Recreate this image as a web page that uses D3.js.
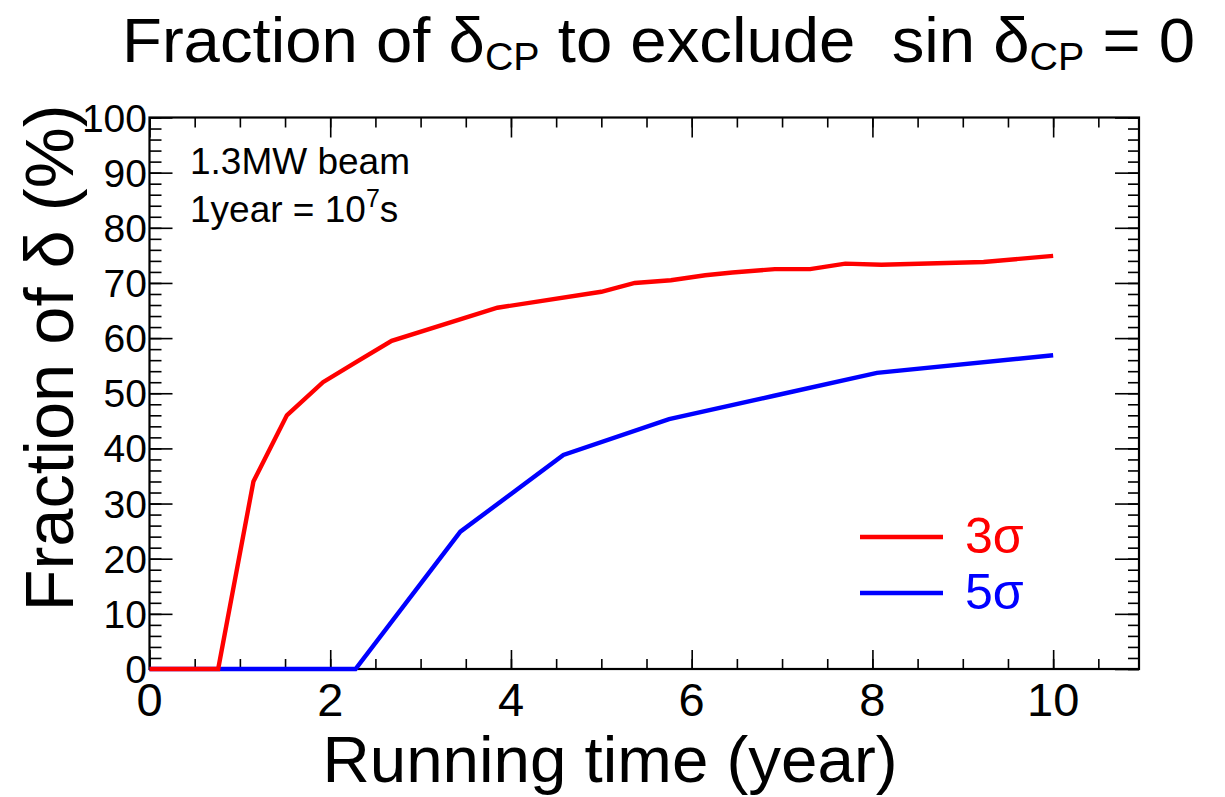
<!DOCTYPE html>
<html>
<head>
<meta charset="utf-8">
<script src="https://cdn.jsdelivr.net/npm/d3@7"></script>
<style>
body{margin:0;background:#fff;}
text{font-family:"Liberation Sans",Arial,Helvetica,sans-serif;}
</style>
</head>
<body>
<script>
// data
var years3 = [0, 0.76, 1.15, 1.52, 1.92, 2.3, 2.68, 3.85, 5.0, 5.37, 5.77, 6.15, 6.45, 6.92, 7.31, 7.7, 8.1, 9.23, 10];
var frac3  = [0, 0, 34, 46, 52, 55.8, 59.5, 65.5, 68.4, 70, 70.5, 71.4, 71.9, 72.5, 72.5, 73.5, 73.3, 73.8, 74.9];
var years5 = [0, 2.28, 3.44, 4.58, 5.75, 6.9, 8.05, 10];
var frac5  = [0, 0, 24.9, 38.8, 45.3, 49.5, 53.7, 56.9];
var xTicks = [0, 2, 4, 6, 8, 10];
var yTicks = [0, 10, 20, 30, 40, 50, 60, 70, 80, 90, 100];
var legendLabels = ["3σ", "5σ"];
var colors = ["#ff0000", "#0000ff"];

var W = 1225, H = 797;
var mLeft = 149.5, mRight = 1139, mTop = 117.5, mBottom = 669;

var svg = d3.select("body").append("svg").attr("width", W).attr("height", H);

var x = d3.scaleLinear().domain([0, 10.95]).range([mLeft, mRight]);
var y = d3.scaleLinear().domain([0, 100]).range([mBottom, mTop]);

var minorX = d3.range(0, 10.95, 0.5);
var minorY = d3.range(0, 100.1, 2);

// ticks: ROOT style, inward on all four sides
function tickAxis(axis, tr, vals, len){
  var g = svg.append("g").attr("transform", tr)
    .call(axis.tickValues(vals).tickSize(len).tickSizeOuter(0).tickFormat(""));
  g.select(".domain").remove();
  g.selectAll("text").remove();
  g.selectAll("line").attr("stroke", "#000").attr("stroke-width", 1.6);
  return g;
}
tickAxis(d3.axisTop(x), "translate(0," + mBottom + ")", minorX, 10);
tickAxis(d3.axisTop(x), "translate(0," + mBottom + ")", xTicks, 19);
tickAxis(d3.axisBottom(x), "translate(0," + mTop + ")", minorX, 10);
tickAxis(d3.axisBottom(x), "translate(0," + mTop + ")", xTicks, 20);
tickAxis(d3.axisRight(y), "translate(" + mLeft + ",0)", minorY, 12);
tickAxis(d3.axisRight(y), "translate(" + mLeft + ",0)", yTicks, 23);
tickAxis(d3.axisLeft(y), "translate(" + mRight + ",0)", minorY, 11);
tickAxis(d3.axisLeft(y), "translate(" + mRight + ",0)", yTicks, 24);

// frame
svg.append("rect").attr("x", mLeft).attr("y", mTop)
  .attr("width", mRight - mLeft).attr("height", mBottom - mTop)
  .attr("fill", "none").attr("stroke", "#000").attr("stroke-width", 2.2);

// tick labels
svg.append("g").selectAll("text").data(xTicks).enter().append("text")
  .attr("x", function(d){ return x(d); })
  .attr("y", 716)
  .attr("text-anchor", "middle")
  .attr("font-size", 47)
  .text(function(d){ return d; });

svg.append("g").selectAll("text").data(yTicks).enter().append("text")
  .attr("x", 147)
  .attr("y", function(d){ return y(d) + 14; })
  .attr("text-anchor", "end")
  .attr("font-size", 39)
  .text(function(d){ return d; });

// axis titles
svg.append("text").attr("x", 610).attr("y", 782)
  .attr("text-anchor", "middle").attr("font-size", 64)
  .attr("textLength", 575).attr("lengthAdjust", "spacingAndGlyphs")
  .text("Running time (year)");

svg.append("text")
  .attr("transform", "translate(73,358) rotate(-90)")
  .attr("text-anchor", "middle").attr("font-size", 68)
  .attr("textLength", 507).attr("lengthAdjust", "spacingAndGlyphs")
  .text("Fraction of δ (%)");

// title
var title = svg.append("text").attr("x", 122).attr("y", 62)
  .attr("font-size", 63)
  .attr("textLength", 1073).attr("lengthAdjust", "spacingAndGlyphs");
title.append("tspan").text("Fraction of δ");
title.append("tspan").attr("font-size", 38).attr("dy", 8).text("CP");
title.append("tspan").attr("dy", -8).text(" to exclude \u00a0sin δ");
title.append("tspan").attr("font-size", 38).attr("dy", 8).text("CP");
title.append("tspan").attr("dy", -8).text(" = 0");

// info text
svg.append("text").attr("x", 190).attr("y", 174).attr("font-size", 37).text("1.3MW beam");
var info = svg.append("text").attr("x", 190).attr("y", 222).attr("font-size", 37);
info.append("tspan").text("1year = 10");
info.append("tspan").attr("font-size", 25).attr("dy", -15).text("7");
info.append("tspan").attr("dy", 15).text("s");

// curves
var line = d3.line().x(function(d){ return x(d[0]); }).y(function(d){ return y(d[1]); });
var series = [d3.zip(years3, frac3), d3.zip(years5, frac5)];
svg.append("path").datum(series[1]).attr("d", line)
  .attr("fill", "none").attr("stroke", colors[1]).attr("stroke-width", 4.4);
svg.append("path").datum(series[0]).attr("d", line)
  .attr("fill", "none").attr("stroke", colors[0]).attr("stroke-width", 4.4);

// legend
var lg = svg.append("g").selectAll("g").data(legendLabels).enter().append("g")
  .attr("transform", function(d, i){ return "translate(0," + (537 + i * 56) + ")"; });
lg.append("line").attr("x1", 860).attr("x2", 943).attr("y1", 0).attr("y2", 0)
  .attr("stroke", function(d, i){ return colors[i]; }).attr("stroke-width", 4.4);
lg.append("text").attr("x", 965).attr("y", 16).attr("font-size", 50)
  .attr("fill", function(d, i){ return colors[i]; })
  .text(function(d){ return d; });
</script>
</body>
</html>
